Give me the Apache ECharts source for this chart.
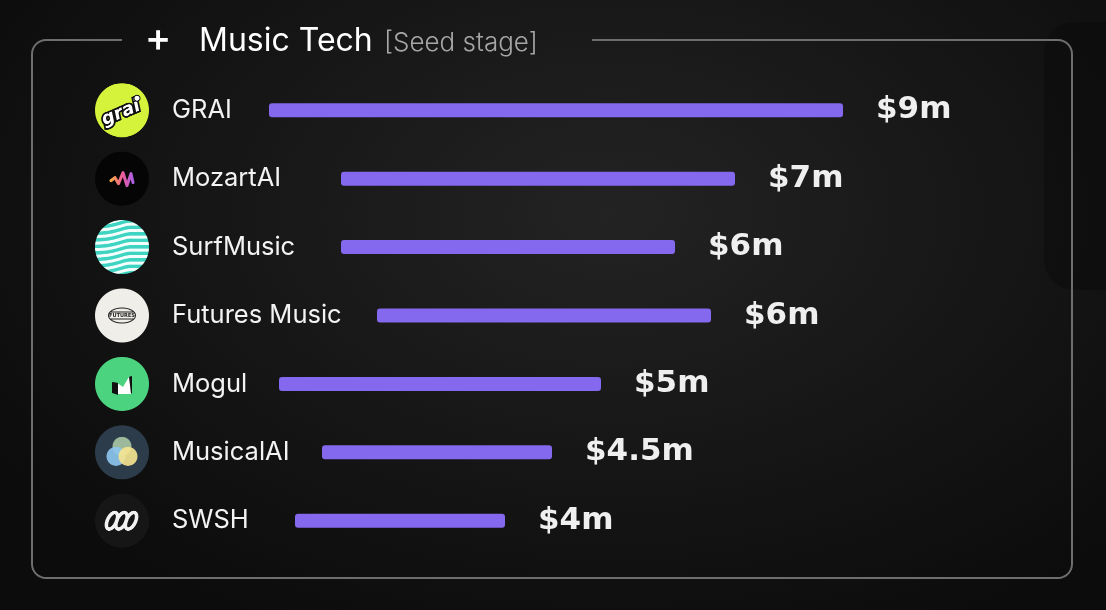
<!DOCTYPE html>
<html><head><meta charset="utf-8">
<script src="https://cdn.jsdelivr.net/npm/echarts@6/dist/echarts.min.js"></script>
<style>
html,body{margin:0;padding:0;width:1106px;height:610px;overflow:hidden;
background:radial-gradient(ellipse 65% 75% at 55% 35%, #232323 0%, #161616 55%, #0c0c0c 100%);}
#c{width:1106px;height:610px;}
</style></head><body><div id="c"></div>
<script>
// ---- data ----
const companies = ['GRAI','MozartAI','SurfMusic','Futures Music','Mogul','MusicalAI','SWSH'];
const raised = [9, 7, 6, 6, 5, 4.5, 4];            // $m, shown as labels
const barStart = [269, 341, 341, 377, 279, 322, 295]; // bar start on x scale
const barEnd   = [843, 735, 675, 711, 601, 552, 505]; // bar end on x scale

// ---- logos (decorative) ----
function mk(draw){
  const c=document.createElement('canvas');c.width=c.height=108;
  const g=c.getContext('2d');g.save();g.beginPath();g.arc(54,54,54,0,Math.PI*2);g.clip();draw(g);g.restore();return c;
}
const logos=[
 mk(g=>{g.fillStyle='#d5f33a';g.fillRect(0,0,108,108);
   g.save();g.translate(52,60);g.rotate(-0.4);g.font='italic bold 36px "DejaVu Sans"';g.textAlign='center';g.textBaseline='middle';
   g.lineWidth=7;g.strokeStyle='#111';g.strokeText('grai',0,0);g.fillStyle='#fff';g.fillText('grai',0,0);g.restore();
   g.fillStyle='#fff';g.strokeStyle='#111';g.lineWidth=2;g.beginPath();g.arc(84,30,6,0,Math.PI*2);g.fill();g.stroke();}),
 mk(g=>{g.fillStyle='#050505';g.fillRect(0,0,108,108);
   const gr=g.createLinearGradient(30,0,80,0);gr.addColorStop(0,'#f8b13a');gr.addColorStop(0.5,'#ec5a9a');gr.addColorStop(1,'#a060f0');
   g.strokeStyle=gr;g.lineWidth=6;g.lineCap='round';g.lineJoin='round';g.beginPath();
   g.moveTo(32,58);g.lineTo(40,52);g.lineTo(47,64);g.lineTo(56,42);g.lineTo(64,68);g.lineTo(72,44);g.lineTo(76,62);g.stroke();}),
 mk(g=>{g.fillStyle='#3fd4c1';g.fillRect(0,0,108,108);g.fillStyle='#f4fffd';
   for(let i=0;i<9;i++){const y=i*13+4;g.beginPath();g.moveTo(0,y);g.bezierCurveTo(40,y,50,y-10,70,y-12);g.lineTo(108,y-12);g.lineTo(108,y-6);g.lineTo(70,y-6);g.bezierCurveTo(50,y-4,40,y+6,0,y+6);g.closePath();g.fill();}}),
 mk(g=>{g.fillStyle='#efeee9';g.fillRect(0,0,108,108);g.strokeStyle='#222';g.lineWidth=2;
   g.beginPath();g.ellipse(54,54,27,15,0,0,Math.PI*2);g.stroke();
   g.beginPath();g.moveTo(30,47);g.lineTo(78,47);g.moveTo(30,61);g.lineTo(78,61);g.stroke();
   g.fillStyle='#efeee9';g.fillRect(31,49,46,10);g.fillStyle='#222';g.font='bold 10px "DejaVu Sans"';g.textAlign='center';g.textBaseline='middle';g.fillText('FUTURES',54,54);}),
 mk(g=>{g.fillStyle='#4cd37f';g.fillRect(0,0,108,108);
   g.fillStyle='#fff';g.beginPath();g.moveTo(44,52);g.lineTo(56,60);g.lineTo(68,40);g.lineTo(72,42);g.lineTo(72,74);g.lineTo(44,74);g.closePath();g.fill();
   g.fillStyle='#111';g.beginPath();g.moveTo(34,50);g.lineTo(46,52);g.lineTo(46,76);g.lineTo(34,72);g.closePath();g.fill();
   g.beginPath();g.moveTo(68,40);g.lineTo(74,38);g.lineTo(74,72);g.lineTo(72,74);g.closePath();g.fill();}),
 mk(g=>{g.fillStyle='#2d3c4a';g.fillRect(0,0,108,108);
   g.globalAlpha=0.9;g.fillStyle='#a9c7a4';g.beginPath();g.arc(54,42,19,0,Math.PI*2);g.fill();
   g.fillStyle='#8dc6ee';g.beginPath();g.arc(42,62,19,0,Math.PI*2);g.fill();
   g.fillStyle='#f6e48f';g.beginPath();g.arc(66,62,19,0,Math.PI*2);g.fill();g.globalAlpha=1;}),
 mk(g=>{g.fillStyle='#161616';g.fillRect(0,0,108,108);g.strokeStyle='#f2f2f2';g.lineWidth=7;
   for(let i=0;i<3;i++){g.beginPath();g.ellipse(34+19*i,54,9,18,0.45,0,Math.PI*2);g.stroke();}})
];
const rich={name:{color:'#f3f3f3',fontSize:25.5,fontFamily:'Inter',padding:[0,0,0,23]}};
logos.forEach((c,i)=>{rich['logo'+i]={width:54,height:54,backgroundColor:{image:c}};});

// rounded border outline with a gap for the title
function corner(cx,cy,r,a0,a1,pts){for(let k=0;k<=8;k++){const a=a0+(a1-a0)*k/8;pts.push([cx+r*Math.cos(a),cy+r*Math.sin(a)]);}}
const bp=[[122,40]];const R=14,L=32,T=40,Rt=1072,B=578;
corner(L+R,T+R,R,-Math.PI/2,-Math.PI,bp);
corner(L+R,B-R,R,Math.PI,Math.PI/2,bp);
corner(Rt-R,B-R,R,Math.PI/2,0,bp);
corner(Rt-R,T+R,R,0,-Math.PI/2,bp);
bp.push([592,40]);

const chart=echarts.init(document.getElementById('c'),null,{renderer:'canvas'});
chart.setOption({
  backgroundColor:'transparent',
  animation:false,
  grid:{left:0,right:0,top:76,bottom:55},
  xAxis:{type:'value',min:0,max:1106,show:false},
  yAxis:{type:'category',data:companies,inverse:true,
    axisLine:{show:false},axisTick:{show:false},splitLine:{show:false},
    axisLabel:{inside:true,align:'left',margin:95,rich:rich,
      formatter:(v,i)=>'{logo'+i+'| }{name|'+v+'}'}},
  graphic:[
    {type:'rect',z:-5,shape:{x:1044,y:22,width:120,height:268,r:30},style:{fill:'rgba(0,0,0,0.22)'}},
    {type:'polyline',z:1,shape:{points:bp},style:{fill:null,stroke:'#6e6e6e',lineWidth:2}},
    {type:'text',x:158,y:39,style:{text:'+',fill:'#fff',font:'500 40px Inter',textAlign:'center',textVerticalAlign:'middle'}},
    {type:'text',x:199,y:41,style:{text:'Music Tech',fill:'#fff',font:'400 32px Inter',textVerticalAlign:'middle'}},
    {type:'text',x:384,y:43,style:{text:'[Seed stage]',fill:'#a6a6a6',font:'300 26px Inter',textVerticalAlign:'middle'}}
  ],
  series:[
    {type:'bar',stack:'s',silent:true,data:barStart,itemStyle:{color:'transparent'},barWidth:14},
    {type:'bar',stack:'s',data:barEnd.map((e,i)=>e-barStart[i]),barWidth:14,
      itemStyle:{color:'#8468ee',borderRadius:3},
      label:{show:true,position:'right',distance:33,color:'#efefef',fontFamily:'DejaVu Sans',fontWeight:'bold',fontSize:31,
        formatter:p=>'$'+raised[p.dataIndex]+'m'}}
  ]
});
</script></body></html>
